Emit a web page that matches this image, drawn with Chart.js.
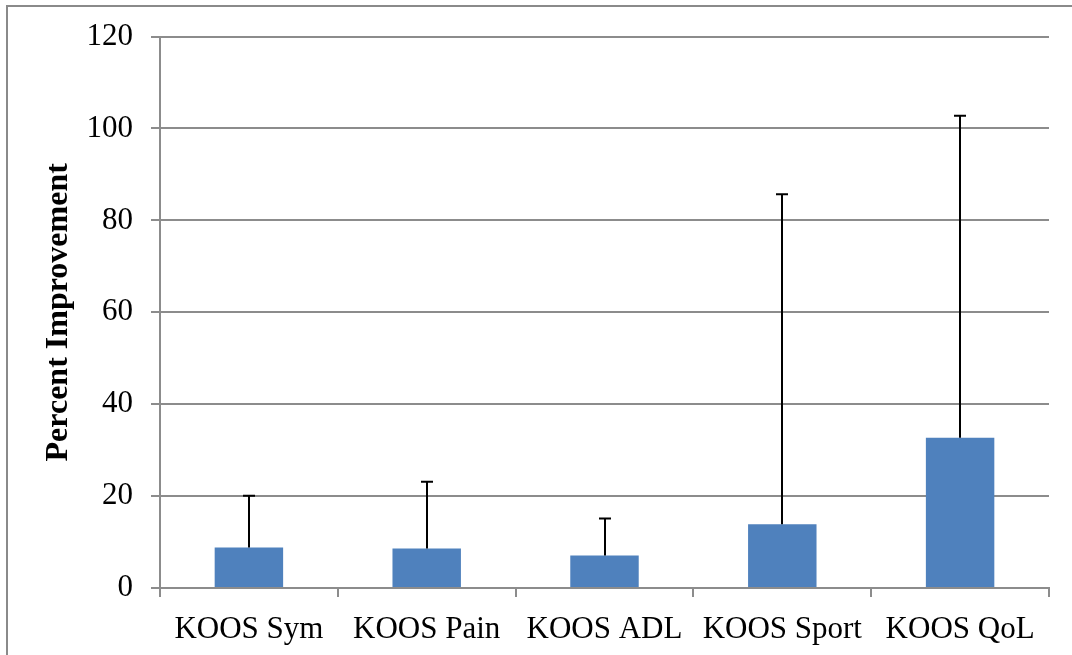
<!DOCTYPE html>
<html>
<head>
<meta charset="utf-8">
<script src="https://cdn.jsdelivr.net/npm/chart.js@4/dist/chart.umd.min.js"></script>
<style>
html,body{margin:0;padding:0;background:#fff;}
#wrap{width:1072px;height:655px;position:relative;}
</style>
</head>
<body>
<div id="wrap"><canvas id="c" width="1072" height="655"></canvas></div>
<script>
const categories = ["KOOS Sym", "KOOS Pain", "KOOS ADL", "KOOS Sport", "KOOS QoL"];
const meanValues = [8.8, 8.6, 7.1, 13.9, 32.7];
const errorUpper = [20.1, 23.1, 15.1, 85.7, 102.8];
const yTicks = [0, 20, 40, 60, 80, 100, 120];
const yTitle = "Percent Improvement";

const gridGray = '#8c8c8c';

const borderPlugin = {
  id: 'outerBorder',
  beforeDraw(chart) {
    const ctx = chart.ctx;
    ctx.save();
    ctx.fillStyle = '#fff';
    ctx.fillRect(0, 0, chart.width, chart.height);
    ctx.strokeStyle = '#8a8a8a';
    ctx.lineWidth = 2;
    ctx.strokeRect(7, 6, 1200, 800);
    ctx.restore();
  }
};

const errorBarPlugin = {
  id: 'errorBars',
  afterDatasetsDraw(chart) {
    const ctx = chart.ctx;
    const meta = chart.getDatasetMeta(0);
    const ys = chart.scales.y;
    ctx.save();
    ctx.strokeStyle = '#000';
    ctx.lineWidth = 2;
    meta.data.forEach((bar, i) => {
      const x = Math.round(bar.x);
      const yTop = ys.getPixelForValue(errorUpper[i]);
      const yBase = ys.getPixelForValue(meanValues[i]);
      ctx.beginPath();
      ctx.moveTo(x, yBase);
      ctx.lineTo(x, yTop);
      ctx.moveTo(x - 6, yTop);
      ctx.lineTo(x + 6, yTop);
      ctx.stroke();
    });
    ctx.restore();
  }
};

new Chart(document.getElementById('c'), {
  type: 'bar',
  data: {
    labels: categories,
    datasets: [{
      data: meanValues,
      backgroundColor: '#4F81BD',
      borderWidth: 0,
      barPercentage: 0.385,
      categoryPercentage: 1.0
    }]
  },
  options: {
    responsive: false,
    animation: false,
    devicePixelRatio: 1,
    layout: { padding: { left: 0, top: 36, right: 23, bottom: 0 } },
    plugins: { legend: { display: false }, tooltip: { enabled: false } },
    scales: {
      x: {
        grid: { display: true, drawOnChartArea: false, offset: true, color: gridGray, lineWidth: 2, tickLength: 9 },
        border: { display: true, color: gridGray, width: 2 },
        ticks: { color: '#000', font: { family: 'Liberation Serif', size: 31 }, padding: 14, maxRotation: 0, autoSkip: false },
        afterFit(scale) { scale.height = 67; }
      },
      y: {
        min: 0, max: 120,
        afterBuildTicks(scale) { scale.ticks = yTicks.map(v => ({ value: v })); },
        grid: { color: gridGray, lineWidth: 2, tickLength: 9 },
        border: { display: true, color: gridGray, width: 2 },
        ticks: { color: '#000', font: { family: 'Liberation Serif', size: 31 }, padding: 18 },
        title: { display: true, text: yTitle, color: '#000', font: { family: 'Liberation Serif', size: 32, weight: 'bold' }, padding: { top: 40, bottom: 0 } },
        afterFit(scale) { scale.width = 160; }
      }
    }
  },
  plugins: [borderPlugin, errorBarPlugin]
});
</script>
</body>
</html>
